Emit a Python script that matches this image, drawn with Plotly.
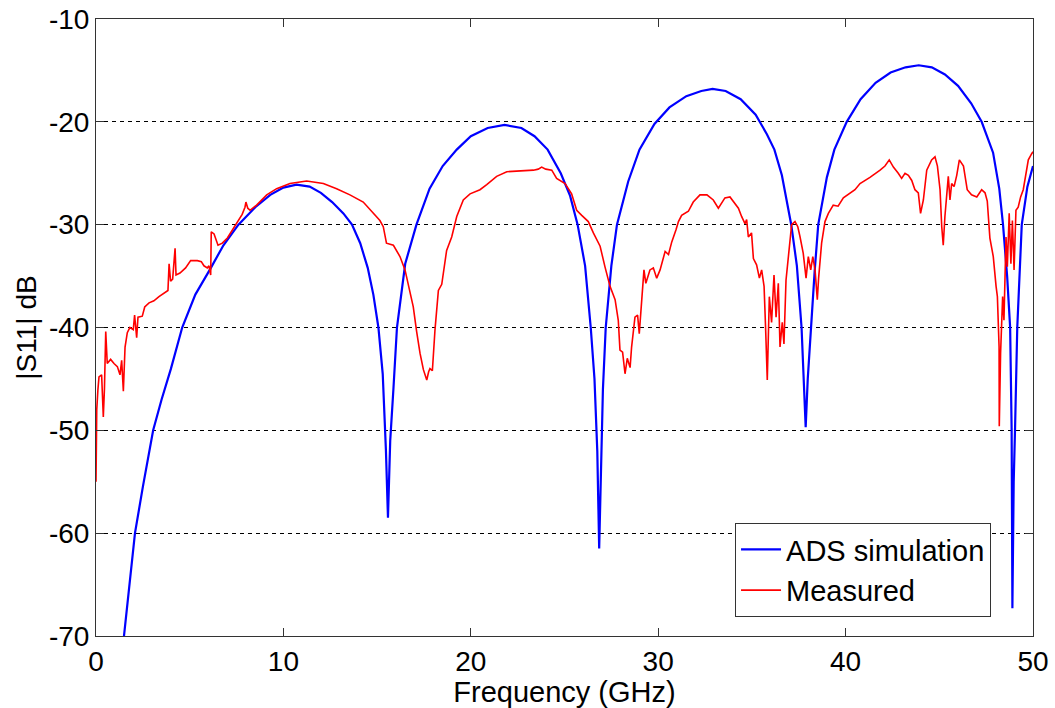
import plotly.graph_objects as go

# ADS simulation (blue)
sim_f = [1.2, 1.5, 1.8, 2.08, 2.5, 3.05, 3.5, 4.0, 4.6, 5.3, 6.1, 6.8, 7.6, 8.5, 9.3, 10.0, 10.7,
         11.4, 12.0, 12.6, 13.2, 13.66, 14.1, 14.5, 14.8, 15.07, 15.3, 15.47, 15.58,
         15.7, 15.87, 16.06, 16.5, 17.1, 17.8, 18.5, 19.25, 20.0, 20.9, 21.8, 22.7, 23.4, 24.1,
         24.8, 25.3, 25.7, 26.1, 26.4, 26.6, 26.75, 26.85, 26.95, 27.05, 27.2, 27.5, 27.8, 28.4,
         29.0, 29.8, 30.6, 31.5, 32.3, 32.9, 33.6, 34.4, 35.2, 35.8, 36.2, 36.6, 37.1, 37.4,
         37.65, 37.78, 37.87, 37.98, 38.14, 38.35, 38.54, 39.0, 39.4, 40.06, 40.8, 41.6, 42.4,
         43.2, 43.9, 44.6, 45.3, 46.0, 46.7, 47.26, 47.87, 48.2, 48.4, 48.62, 48.78, 48.86,
         48.9, 48.97, 49.04, 49.16, 49.4, 49.7, 50.0]
sim_db = [-75, -70, -64.5, -60, -55.5, -50, -47, -44, -40, -36.8, -34.3, -32, -30, -28.3, -27.1, -26.4, -26.1,
          -26.3, -26.9, -27.8, -28.9, -30, -31.8, -34.2, -36.8, -40, -44.5, -51.9, -58.5,
          -51, -46, -40, -33.8, -30, -26.5, -24.3, -22.7, -21.4, -20.6, -20.3, -20.6, -21.4, -22.7,
          -25.0, -27.2, -30, -34, -40, -45, -52, -61.5, -52, -46, -40, -34, -30, -25.8,
          -22.7, -20.2, -18.6, -17.5, -17.0, -16.8, -17.0, -17.8, -19.3, -21.2, -22.7, -25.2, -30, -34,
          -40, -45, -49.7, -45, -40, -34.5, -30, -25.4, -22.7, -20, -17.8, -16.2, -15.2,
          -14.7, -14.5, -14.7, -15.4, -16.5, -18.2, -20, -23, -26.5, -30, -35, -40, -50,
          -67.3, -55, -50, -40, -30, -26.3, -24.3]

# Measured (red)
meas_f = [0.0, 0.02, 0.04, 0.1, 0.16, 0.3, 0.39, 0.45, 0.52, 0.6, 0.78, 0.96, 1.14, 1.28, 1.37, 1.46,
          1.55, 1.67, 1.81, 1.99, 2.06, 2.17, 2.24, 2.47, 2.60, 2.83, 3.09, 3.36, 3.63, 3.84, 3.90,
          3.98, 4.09, 4.22, 4.27, 4.48, 4.78, 5.05, 5.41, 5.62, 5.76, 5.94, 6.03, 6.12, 6.15, 6.30,
          6.51, 6.74, 7.01, 7.27, 7.5, 7.8, 7.95, 8.0, 8.1, 8.22, 8.57, 9.11, 9.64, 10.35, 11.24,
          12.13, 12.84, 13.55, 14.26, 14.8, 15.15, 15.33, 15.5, 15.87, 16.22, 16.49, 16.76, 16.93,
          17.11, 17.29, 17.47, 17.65, 17.75, 17.82, 17.95, 18.09, 18.27, 18.45, 18.71, 18.98, 19.25,
          19.6, 19.96, 20.49, 20.85, 21.38, 21.92, 22.63, 23.34, 23.6, 23.78, 24.0, 24.32, 24.58,
          25.03, 25.38, 25.65, 25.92, 26.27, 26.54, 26.9, 27.16, 27.43, 27.7, 27.87, 27.96, 28.1,
          28.23, 28.35, 28.5, 28.58, 28.76, 28.9, 28.99, 29.12, 29.24, 29.34, 29.56, 29.74, 29.92,
          30.1, 30.27, 30.37, 30.55, 30.72, 30.95, 31.08, 31.25, 31.61, 31.87, 32.23, 32.6, 32.94,
          33.21, 33.38, 33.56, 33.83, 34.1, 34.28, 34.45, 34.63, 34.72, 34.81, 34.98, 35.08, 35.25,
          35.4, 35.52, 35.65, 35.73, 35.82, 35.93, 36.05, 36.18, 36.29, 36.41, 36.5, 36.62, 36.71,
          36.82, 37.0, 37.12, 37.3, 37.45, 37.57, 37.74, 37.89, 38.01, 38.14, 38.25, 38.37, 38.49,
          38.56, 38.72, 38.9, 39.08, 39.34, 39.6, 39.88, 40.23, 40.5, 40.77, 41.3, 41.84, 42.1,
          42.33, 42.55, 42.81, 42.99, 43.17, 43.35, 43.53, 43.7, 43.88, 44.0, 44.15, 44.33, 44.59,
          44.77, 44.9, 45.04, 45.13, 45.21, 45.3, 45.48, 45.57, 45.66, 45.79, 45.93, 46.07, 46.29,
          46.49, 46.72, 47.0, 47.26, 47.44, 47.56, 47.7, 47.88, 48.03, 48.1, 48.19, 48.2, 48.27,
          48.38, 48.45, 48.56, 48.63, 48.73, 48.82, 48.9, 48.99, 49.09, 49.21, 49.34, 49.48, 49.63,
          49.75, 49.93, 50.0]
meas_db = [-55.0, -50.0, -48.0, -46.1, -44.8, -44.6, -48.7, -46.0, -40.4, -43.5, -43.1, -43.5, -43.8,
           -44.6, -43.2, -46.2, -41.9, -40.5, -40.0, -40.2, -38.8, -41.0, -39.0, -38.9, -38.0, -37.6,
           -37.4, -37.0, -36.7, -36.4, -33.8, -35.5, -35.3, -32.3, -34.9, -34.7, -34.2, -33.5, -33.5,
           -33.6, -34.0, -34.2, -34.0, -34.9, -30.7, -30.9, -32.0, -31.8, -31.3, -30.5, -29.9, -29.0,
           -28.3, -27.8, -28.4, -28.6, -28.1, -27.1, -26.5, -26.0, -25.75, -26.0, -26.5, -27.1, -27.8,
           -28.9, -29.6, -30.2, -31.8, -32.0, -33.1, -34.4, -36.7, -38.0, -40.4, -42.5, -44.1, -45.1,
           -44.3, -44.0, -44.2, -40.2, -36.4, -35.8, -32.5, -31.2, -29.2, -27.6, -27.0, -26.6, -26.1,
           -25.3, -24.85, -24.8, -24.7, -24.6, -24.4, -24.6, -24.7, -25.5, -26.0, -27.0, -28.6, -29.1,
           -29.7, -30.8, -32.1, -34.1, -36.0, -37.3, -39.3, -42.2, -42.4, -44.5, -43.0, -43.9, -41.9,
           -39.0, -38.8, -40.6, -37.7, -34.4, -35.7, -34.4, -34.2, -35.2, -34.4, -33.1, -32.6, -32.9,
           -31.7, -30.5, -29.7, -29.1, -28.7, -27.8, -27.1, -27.1, -27.6, -28.4, -27.9, -27.4, -27.3,
           -27.9, -28.4, -29.2, -29.9, -29.5, -31.2, -30.8, -33.3, -33.9, -35.2, -34.4, -36.0, -40.0,
           -45.1, -37.0, -39.5, -34.9, -39.0, -35.7, -41.9, -39.5, -41.6, -35.4, -32.1, -30.0, -29.7,
           -30.2, -31.2, -32.8, -35.2, -33.1, -34.4, -33.1, -34.4, -37.3, -35.2, -31.8, -29.7, -28.9,
           -28.1, -28.2, -27.4, -26.95, -26.6, -26.0, -25.4, -24.7, -24.3, -23.7, -24.4, -25.0, -25.5,
           -25.0, -25.2, -25.7, -26.6, -26.9, -28.9, -27.6, -24.7, -23.7, -23.4, -24.3, -26.6, -30.2,
           -32.0, -29.2, -25.3, -27.6, -26.0, -26.3, -25.2, -23.7, -24.3, -26.6, -27.1, -27.3, -26.6,
           -26.9, -27.7, -31.3, -33.1, -36.0, -37.0, -41.9, -49.6, -42.5, -37.0, -39.3, -31.2, -34.1,
           -28.9, -33.8, -29.6, -34.4, -28.6, -28.3, -27.3, -26.6, -25.0, -23.7, -23.1, -22.9]

x_ticks = [0, 10, 20, 30, 40, 50]
y_ticks = [-70, -60, -50, -40, -30, -20, -10]

FONT = "Liberation Sans, Arial, sans-serif"
FS = 28

fig = go.Figure()
fig.add_trace(go.Scatter(x=sim_f, y=sim_db, mode="lines", name="ADS simulation",
                         line=dict(color="#0000FF", width=2.2)))
fig.add_trace(go.Scatter(x=meas_f, y=meas_db, mode="lines", name="Measured",
                         line=dict(color="#FF0000", width=1.6)))

fig.update_layout(
    width=1055, height=708,
    margin=dict(l=96, r=22, t=19, b=72, autoexpand=False),
    paper_bgcolor="white", plot_bgcolor="white",
    font=dict(family=FONT, size=FS, color="black"),
    showlegend=True,
    legend=dict(x=0.682, y=0.183, xanchor="left", yanchor="top",
                bgcolor="white", bordercolor="#333333", borderwidth=1,
                font=dict(family=FONT, size=29, color="black"),
                tracegroupgap=0, itemwidth=40),
    xaxis=dict(range=[0, 50], tickvals=x_ticks, ticktext=[str(v) for v in x_ticks],
               showgrid=False, zeroline=False, automargin=False,
               showline=True, linecolor="#333333", linewidth=1, mirror="ticks",
               ticks="inside", ticklen=8, tickcolor="#333333",
               title=dict(text="Frequency (GHz)", font=dict(size=29), standoff=0),
               tickfont=dict(size=FS)),
    yaxis=dict(range=[-70, -10], tickvals=y_ticks, ticktext=[str(v) for v in y_ticks],
               showgrid=True, gridcolor="black", gridwidth=1, griddash="4px,4px",
               zeroline=False, automargin=False,
               showline=True, linecolor="#333333", linewidth=1, mirror="ticks",
               ticks="inside", ticklen=8, tickcolor="#333333",
               title=dict(text="|S11| dB", font=dict(size=FS), standoff=4),
               tickfont=dict(size=FS)),
)

fig.write_html("out.html")
